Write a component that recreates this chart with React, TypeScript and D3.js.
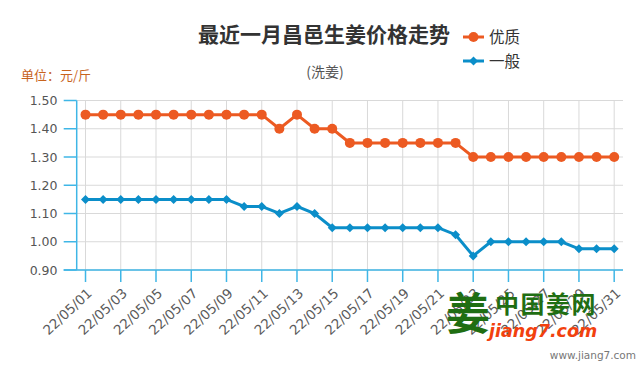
import React from "react";
import * as d3 from "d3";

const dates = Array.from({ length: 31 }, (_, i) => `22/05/${String(i + 1).padStart(2, "0")}`);
const premium = [1.45, 1.45, 1.45, 1.45, 1.45, 1.45, 1.45, 1.45, 1.45, 1.45, 1.45, 1.4, 1.45, 1.4, 1.4, 1.35, 1.35, 1.35, 1.35, 1.35, 1.35, 1.35, 1.3, 1.3, 1.3, 1.3, 1.3, 1.3, 1.3, 1.3, 1.3];
const ordinary = [1.15, 1.15, 1.15, 1.15, 1.15, 1.15, 1.15, 1.15, 1.15, 1.125, 1.125, 1.1, 1.125, 1.1, 1.05, 1.05, 1.05, 1.05, 1.05, 1.05, 1.05, 1.025, 0.95, 1.0, 1.0, 1.0, 1.0, 1.0, 0.975, 0.975, 0.975];
const yTicks = [0.9, 1.0, 1.1, 1.2, 1.3, 1.4, 1.5];
const seriesNames = ["优质", "一般"];

const ORANGE = "#ec5a22";
const BLUE = "#0b8ec9";
const AXIS = "#3fb6e6";
const GRID = "#d9d9d9";
const NUM_FONT = "'DejaVu Sans', Verdana, sans-serif";
const CJK = "'Noto Sans CJK SC', 'Noto Sans', sans-serif";

export default function App() {
  const left = 76.7, right = 623, top = 100.5, bottom = 270;
  const x = d3.scalePoint<string>().domain(dates).range([left, right]).padding(0.5);
  const y = d3.scaleLinear().domain([0.9, 1.5]).range([bottom, top]);
  const line = d3.line<number>().x((_, i) => x(dates[i])!).y((d) => y(d));
  const labeled = dates.filter((_, i) => i % 2 === 0);
  const diamond = (cx: number, cy: number, r: number) =>
    `M${cx},${cy - r}L${cx + r},${cy}L${cx},${cy + r}L${cx - r},${cy}Z`;

  return (
    <div style={{ position: "absolute", left: 0, top: 0 }}>
      <svg width={644} height={379} style={{ display: "block", background: "#fff" }}>
        {/* title */}
        <text x={324} y={42} textAnchor="middle" fontFamily={CJK} fontWeight="bold" fontSize={21} fill="#333">
          最近一月昌邑生姜价格走势
        </text>
        <text x={325} y={77} textAnchor="middle" fontFamily={CJK} fontSize={14} fill="#555">
          (洗姜)
        </text>
        <text x={21} y={80} fontFamily={CJK} fontSize={13} fill="#c8641e">
          单位：元/斤
        </text>
        {/* legend */}
        <g>
          <line x1={463} x2={484} y1={37} y2={37} stroke={ORANGE} strokeWidth={3} />
          <circle cx={473.5} cy={37} r={5} fill={ORANGE} />
          <text x={489} y={42.5} fontFamily={CJK} fontSize={15.5} fill="#333">{seriesNames[0]}</text>
          <line x1={463} x2={484} y1={61} y2={61} stroke={BLUE} strokeWidth={3} />
          <path d={diamond(473.5, 61, 4.5)} fill={BLUE} />
          <text x={489} y={66.5} fontFamily={CJK} fontSize={15.5} fill="#333">{seriesNames[1]}</text>
        </g>
        {/* grid */}
        {yTicks.map((t) => (
          <line key={"h" + t} x1={left} x2={right} y1={y(t)} y2={y(t)} stroke={GRID} strokeWidth={1} />
        ))}
        {labeled.map((d) => (
          <line key={"v" + d} x1={x(d)} x2={x(d)} y1={top} y2={bottom} stroke={GRID} strokeWidth={1} />
        ))}
        {/* axes */}
        <line x1={left} x2={left} y1={top} y2={bottom} stroke={AXIS} strokeWidth={1.5} />
        {yTicks.map((t) => (
          <g key={"yt" + t}>
            <line x1={left - 13} x2={left} y1={y(t)} y2={y(t)} stroke={AXIS} strokeWidth={1.5} />
            <text x={57.5} y={y(t)} dy="0.36em" textAnchor="end" fontFamily={NUM_FONT} fontSize={12.5} fill="#555">
              {t.toFixed(2)}
            </text>
          </g>
        ))}
        <line x1={left - 13} x2={right} y1={bottom} y2={bottom} stroke={AXIS} strokeWidth={1.5} />
        {labeled.map((d) => (
          <g key={"xt" + d}>
            <line x1={x(d)} x2={x(d)} y1={bottom} y2={bottom + 12} stroke={AXIS} strokeWidth={1.5} />
            <text
              transform={`translate(${x(d)! + 4},${bottom + 21}) rotate(-43)`}
              textAnchor="end"
              dy="0.35em"
              fontFamily={NUM_FONT}
              fontSize={13.5}
              fill="#5a5a5a"
            >
              {d}
            </text>
          </g>
        ))}
        {/* series */}
        <path d={line(premium) || ""} fill="none" stroke={ORANGE} strokeWidth={3} />
        {premium.map((v, i) => (
          <circle key={"p" + i} cx={x(dates[i])} cy={y(v)} r={5} fill={ORANGE} />
        ))}
        <path d={line(ordinary) || ""} fill="none" stroke={BLUE} strokeWidth={3} />
        {ordinary.map((v, i) => (
          <path key={"o" + i} d={diamond(x(dates[i])!, y(v), 4.5)} fill={BLUE} />
        ))}
        {/* watermark */}
        <g>
          <text x={468} y={330} textAnchor="middle" fontFamily={CJK} fontWeight="bold" fontSize={44} fill="#1f6e12">姜</text>
          <text x={495} y={313} fontFamily={CJK} fontWeight="bold" fontSize={24} fill="#1f6e12" letterSpacing={1.5}>中国姜网</text>
          <text x={489} y={337} fontFamily="'DejaVu Sans', sans-serif" fontStyle="italic" fontWeight="bold" fontSize={17.5} fill="#f2410e">jiang7.com</text>
          <text x={636} y={359} textAnchor="end" fontFamily="'DejaVu Sans', sans-serif" fontSize={10.5} fill="#777">www.jiang7.com</text>
        </g>
      </svg>
    </div>
  );
}
